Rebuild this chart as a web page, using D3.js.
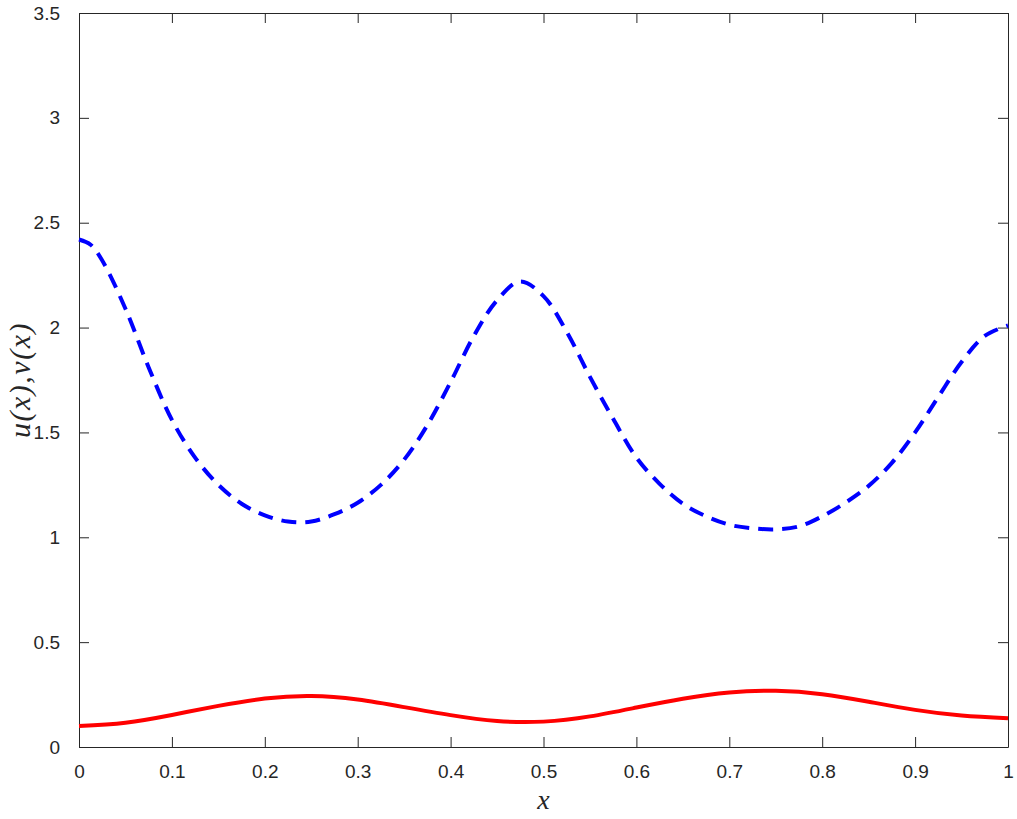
<!DOCTYPE html>
<html>
<head>
<meta charset="utf-8">
<script src="https://cdn.jsdelivr.net/npm/d3@7"></script>
<style>
  body { margin: 0; background: #fff; }
  .tick text { font-family: "Liberation Sans", Arial, sans-serif; font-size: 19px; fill: #262626; }
  .lbl { font-family: "Liberation Serif", "DejaVu Serif", serif; font-style: italic; fill: #262626; }
</style>
</head>
<body>
<div id="chart"></div>
<script>
// x grid for v(x) (blue dashed)
var xv = [0, 0.0125, 0.025, 0.05, 0.075, 0.1, 0.125, 0.15, 0.175, 0.2, 0.225, 0.25, 0.275, 0.3, 0.325, 0.35,
          0.375, 0.4, 0.425, 0.45, 0.475, 0.5, 0.525, 0.55, 0.575, 0.6, 0.625, 0.65, 0.675, 0.7,
          0.725, 0.75, 0.775, 0.8, 0.825, 0.85, 0.875, 0.9, 0.925, 0.95, 0.975, 1];
var vVals = [2.42, 2.395, 2.32, 2.09, 1.81, 1.56, 1.38, 1.25, 1.16, 1.105, 1.075, 1.075, 1.11, 1.165, 1.25, 1.37,
             1.535, 1.74, 1.96, 2.13, 2.22, 2.15, 1.98, 1.765, 1.565, 1.38, 1.255, 1.16, 1.10, 1.06,
             1.043, 1.038, 1.052, 1.10, 1.165, 1.245, 1.355, 1.50, 1.67, 1.836, 1.96, 2.01];

// x grid for u(x) (red solid)
var xu = [0, 0.05, 0.1, 0.15, 0.2, 0.25, 0.3, 0.35, 0.4, 0.45, 0.5, 0.55, 0.6, 0.65, 0.7, 0.75, 0.8, 0.85, 0.9, 0.95, 1];
var uVals = [0.100, 0.116, 0.153, 0.196, 0.231, 0.243, 0.226, 0.19, 0.152, 0.124, 0.121, 0.146, 0.188,
             0.23, 0.26, 0.268, 0.252, 0.216, 0.177, 0.150, 0.137];

var xTicks = [0, 0.1, 0.2, 0.3, 0.4, 0.5, 0.6, 0.7, 0.8, 0.9, 1];
var yTicks = [0, 0.5, 1, 1.5, 2, 2.5, 3, 3.5];

var width = 1017, height = 819,
    margin = {top: 13, right: 9, bottom: 72, left: 79},
    w = width - margin.left - margin.right,
    h = height - margin.top - margin.bottom;

var svg = d3.select('#chart').append('svg')
    .attr('width', width)
    .attr('height', height);

var g = svg.append('g')
    .attr('transform', 'translate(' + margin.left + ',' + margin.top + ')');

var x = d3.scaleLinear().domain([0, 1]).range([0, w]);
var y = d3.scaleLinear().domain([0, 3.5]).range([h, 0]);

var fmt = function (d) { return String(d); };

// axes, ticks inward
g.append('g').attr('transform', 'translate(0,' + h + ')')
    .call(d3.axisBottom(x).tickValues(xTicks).tickFormat(fmt).tickSizeInner(-10).tickSizeOuter(0).tickPadding(18));
g.append('g')
    .call(d3.axisTop(x).tickValues(xTicks).tickFormat('').tickSizeInner(-10).tickSizeOuter(0));
g.append('g')
    .call(d3.axisLeft(y).tickValues(yTicks).tickFormat(fmt).tickSizeInner(-10).tickSizeOuter(0).tickPadding(19));
g.append('g').attr('transform', 'translate(' + w + ',0)')
    .call(d3.axisRight(y).tickValues(yTicks).tickFormat('').tickSizeInner(-10).tickSizeOuter(0));

g.selectAll('.domain').attr('stroke', '#262626');
g.selectAll('.tick line').attr('stroke', '#262626');

// curves
var lineV = d3.line()
    .x(function (d, i) { return x(xv[i]); })
    .y(function (d) { return y(d); })
    .curve(d3.curveCatmullRom);
var lineU = d3.line()
    .x(function (d, i) { return x(xu[i]); })
    .y(function (d) { return y(d); })
    .curve(d3.curveNatural);

g.append('path').datum(uVals)
    .attr('d', lineU)
    .attr('fill', 'none')
    .attr('stroke', '#ff0000')
    .attr('stroke-width', 4);

g.append('path').datum(vVals)
    .attr('d', lineV)
    .attr('fill', 'none')
    .attr('stroke', '#0000ff')
    .attr('stroke-width', 4)
    .attr('stroke-dasharray', '15,9');

// axis labels
svg.append('text').attr('class', 'lbl')
    .attr('x', margin.left + w / 2).attr('y', 809)
    .attr('text-anchor', 'middle')
    .style('font-size', '28px')
    .text('x');

svg.append('text').attr('class', 'lbl')
    .attr('transform', 'translate(30,' + (margin.top + h / 2) + ') rotate(-90)')
    .attr('text-anchor', 'middle')
    .style('font-size', '30px')
    .style('letter-spacing', '1.5px')
    .text('u(x),v(x)');
</script>
</body>
</html>
